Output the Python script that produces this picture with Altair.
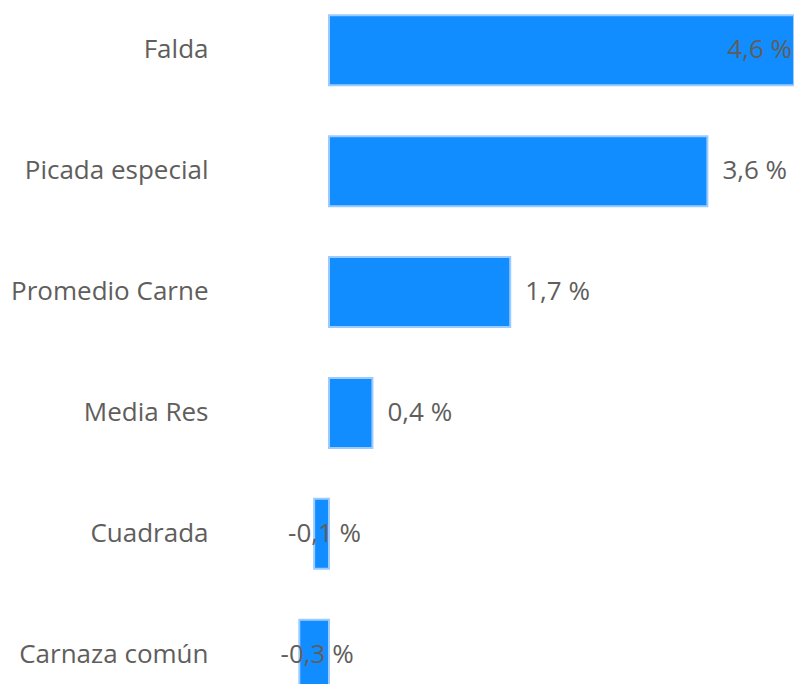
import altair as alt
import pandas as pd

categories = ["Falda", "Picada especial", "Promedio Carne", "Media Res", "Cuadrada", "Carnaza común"]
values = [4.6, 3.57, 1.71, 0.41, -0.14, -0.28]

df = pd.DataFrame({"cat": categories, "value": values})

X_MAX = 4.387
FONT = "Open Sans"
TXT = "#605E5C"
FS = 26

x_scale = alt.Scale(domain=[-1.047, X_MAX], nice=False, zero=False, clamp=True)
y_enc = alt.Y(
    "cat:N",
    sort=categories,
    scale=alt.Scale(paddingInner=0.42, paddingOuter=0.06),
    axis=alt.Axis(
        title=None, domain=False, ticks=False, grid=False,
        labelPadding=10, labelFontSize=FS, labelFont=FONT,
        labelColor=TXT, labelLimit=400,
    ),
)

base = alt.Chart(df).transform_calculate(
    label="replace(replace(format(datum.value, '.1f'), '.', ','), '\u2212', '-') + ' %'",
    mid="datum.value / 2",
)

bars = base.mark_bar(color="#118DFF", stroke="#9CCBFF", strokeWidth=2).encode(
    x=alt.X("value:Q", scale=x_scale, axis=None),
    y=y_enc,
)

pos_out = base.transform_filter(
    f"datum.value > 0 && datum.value < {X_MAX}"
).mark_text(align="left", baseline="middle", dx=15, font=FONT, fontSize=FS, color=TXT).encode(
    x=alt.X("value:Q", scale=x_scale), y=y_enc, text="label:N"
)

pos_in = base.transform_filter(
    f"datum.value >= {X_MAX}"
).mark_text(align="right", baseline="middle", dx=-2, font=FONT, fontSize=FS, color=TXT).encode(
    x=alt.X("value:Q", scale=x_scale), y=y_enc, text="label:N"
)

neg = base.transform_filter("datum.value < 0").mark_text(
    align="center", baseline="middle", dx=3, font=FONT, fontSize=FS, color=TXT
).encode(x=alt.X("mid:Q", scale=x_scale), y=y_enc, text="label:N")

chart = (
    alt.layer(bars, pos_out, pos_in, neg)
    .properties(
        width=576,
        height=689,
        autosize=alt.AutoSizeParams(type="none"),
        padding={"left": 210, "top": 0, "right": 0, "bottom": 0},
    )
    .configure_view(stroke=None)
)

chart.save("out.html", embed_options={"renderer": "svg", "actions": False})
